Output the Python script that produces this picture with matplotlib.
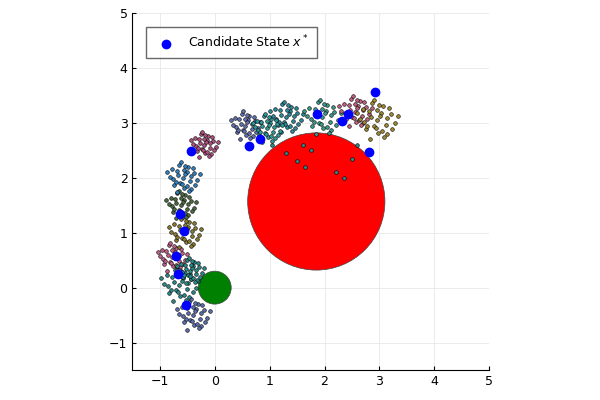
import matplotlib.pyplot as plt
import numpy as np
from matplotlib.patches import Circle

# candidate states (blue dots)
cand_x = [2.92, 1.87, 2.43, 2.31, 2.81, 0.83, 0.63, -0.43, -0.63, -0.56, -0.70, -0.67, -0.52]
cand_y = [3.56, 3.16, 3.16, 3.04, 2.47, 2.71, 2.58, 2.49, 1.35, 1.04, 0.58, 0.25, -0.31]

# particle clusters: centre x, centre y, spread, colour
clus_x = [-0.40, -0.65, -0.78, -0.55, -0.62, -0.58, -0.20, 0.55, 1.30, 1.95, 2.55, 2.95, -0.45, 0.95]
clus_y = [-0.50, 0.05, 0.55, 1.00, 1.50, 2.00, 2.60, 2.95, 3.10, 3.10, 3.20, 3.05, 0.30, 2.90]
clus_s = [0.22, 0.25, 0.20, 0.22, 0.20, 0.22, 0.18, 0.20, 0.22, 0.25, 0.22, 0.28, 0.18, 0.2]
clus_c = ["#5a6fb0", "#2a8a8a", "#c0608a", "#8a7a30", "#4a6a40", "#3080c0", "#b05080",
          "#6070b0", "#2a8a9a", "#3a9a8a", "#c06080", "#a08a30", "#2a8a8a", "#2a9a9a"]

# hand-typed offset pattern reused for each cluster
off_x = [0.0, 0.3, -0.4, 0.6, -0.7, 0.1, 0.9, -0.9, 0.4, -0.2, 0.7, -0.5, 0.2, -0.8, 1.2,
         -1.1, 0.5, -0.3, 0.8, -0.6, 0.05, 1.0, -1.3, 0.35, -0.15, 0.65, -0.45, 1.4, -0.05, 0.15]
off_y = [0.0, 0.5, 0.2, -0.3, -0.6, -0.8, 0.4, 0.7, 0.9, -0.4, -0.9, 0.6, 0.3, -0.1, -0.2,
         0.1, -1.1, 1.1, 0.8, -0.35, 0.65, -0.55, 0.5, -0.7, 1.3, 0.15, -1.2, 0.3, -0.5, 1.0]

# a few stray particles over the obstacle
stray_x = [1.3, 1.5, 1.65, 2.5, 2.2, 1.6, 2.35, 2.6, 1.05, 1.75]
stray_y = [2.45, 2.3, 2.2, 2.35, 2.1, 2.6, 2.0, 2.6, 2.6, 2.5]

fig = plt.figure(figsize=(6, 4), dpi=100)
ax = fig.add_axes([0.218, 0.075, 0.6, 0.892])

ax.add_patch(Circle((1.85, 1.57), 1.25, facecolor="red", edgecolor="#444444", lw=0.5, zorder=2))
ax.add_patch(Circle((0.0, 0.0), 0.3, facecolor="green", edgecolor="#444444", lw=0.5, zorder=2))

for cx, cy, s, c in zip(clus_x, clus_y, clus_s, clus_c):
    px = cx + s * np.array(off_x)
    py = cy + s * np.array(off_y)
    ax.scatter(px, py, s=7, c=c, edgecolors="black", linewidths=0.4, zorder=3)
ax.scatter(stray_x, stray_y, s=7, c="#2a8a8a", edgecolors="black", linewidths=0.4, zorder=3)

ax.scatter(cand_x, cand_y, s=36, c="blue", edgecolors="blue", zorder=4,
           label="Candidate State $x^*$")

ax.set_xlim(-1.5, 5)
ax.set_ylim(-1.5, 5)
ax.set_aspect("equal")
ax.set_xticks(range(-1, 6))
ax.set_yticks(range(-1, 6))
ax.grid(True, color="#e8e8e8", lw=0.6)
ax.set_axisbelow(True)
ax.tick_params(labelsize=9, length=3, direction="in")
for sp in ["top", "right"]:
    ax.spines[sp].set_visible(False)
ax.legend(loc="upper left", fontsize=9, fancybox=False, edgecolor="#444444",
          borderpad=0.6, bbox_to_anchor=(0.02, 0.98))

plt.savefig("out.png")
